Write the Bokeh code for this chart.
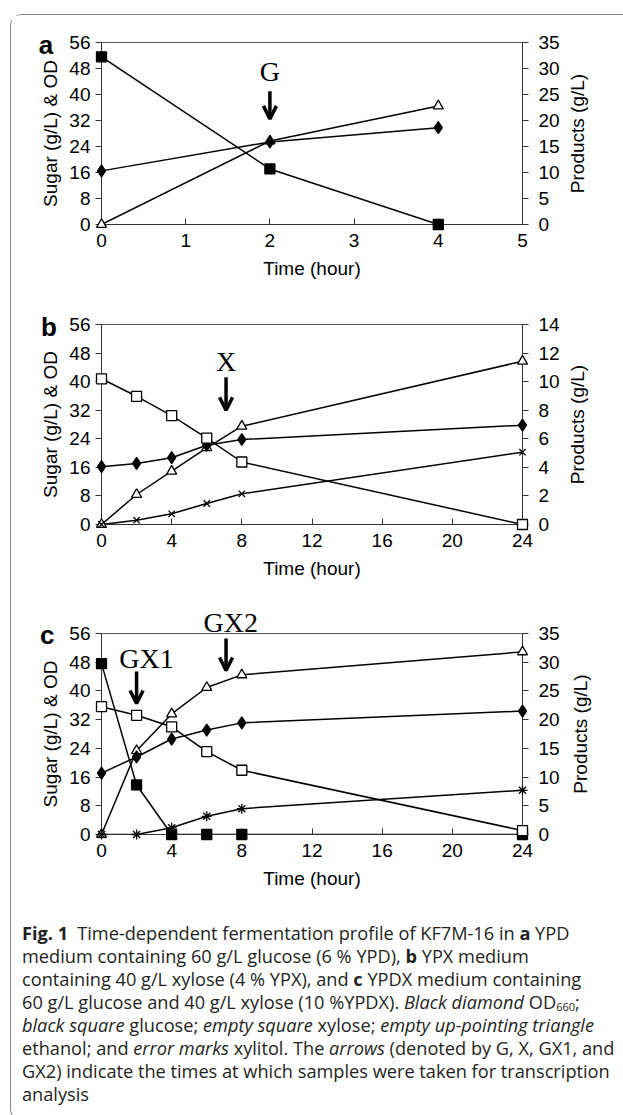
import math
from bokeh.plotting import figure
from bokeh.models import Range1d, LinearAxis, FixedTicker, Arrow, OpenHead, Div, Spacer
from bokeh.layouts import column, row
from bokeh.core.properties import value
from bokeh.embed import file_html
from bokeh.resources import INLINE

# ---------------- data ----------------
left_ticks = [0, 8, 16, 24, 32, 40, 48, 56]
right_ticks_35 = [0, 5, 10, 15, 20, 25, 30, 35]
right_ticks_14 = [0, 2, 4, 6, 8, 10, 12, 14]
x_ticks_a = [0, 1, 2, 3, 4, 5]
x_ticks_bc = [0, 4, 8, 12, 16, 20, 24]

# panel a (YPD) - time in hours
time_a = [0, 2, 4]
glucose_a = [51.6, 17.1, 0.0]      # left axis
od_a = [16.5, 25.4, 29.8]          # left axis
ethanol_a = [0.0, 16.05, 22.8]     # right axis (0-35)

# panel b (YPX)
time_b = [0, 2, 4, 6, 8, 24]
xylose_b = [40.8, 35.9, 30.5, 24.2, 17.5, 0.0]   # left
od_b = [16.2, 17.1, 18.7, 22.2, 23.8, 27.8]      # left
ethanol_b = [0.0, 2.1, 3.73, 5.37, 6.88, 11.43]  # right (0-14)
xylitol_b = [0.0, 0.3, 0.75, 1.47, 2.15, 5.06]   # right

# panel c (YPDX)
time_c = [0, 2, 4, 6, 8, 24]
glucose_c = [47.6, 13.8, 0.0, 0.0, 0.0, 0.0]      # left
xylose_c = [35.6, 33.2, 30.0, 23.1, 17.9, 1.1]    # left
od_c = [17.1, 21.6, 26.6, 29.1, 31.1, 34.4]       # left
ethanol_c = [0.0, 14.6, 21.0, 25.6, 27.8, 31.8]   # right (0-35)
xylitol_c = [0.0, 0.0, 1.17, 3.17, 4.5, 7.7]      # right

SANS = "Liberation Sans"
SERIF = "Liberation Serif"
TICK_FS = "19px"
FIG_W = 611


def make_panel(letter, letter_xy, title_x, xmax, xticks, rmax, rticks, height, bl, plot_w, bt, bb):
    br = FIG_W - bl - plot_w
    p = figure(width=FIG_W, height=height, x_range=Range1d(0, xmax), y_range=Range1d(0, 56),
               output_backend="svg", toolbar_location=None,
               min_border_left=bl, min_border_right=br, min_border_top=bt, min_border_bottom=bb)
    p.extra_y_ranges = {"right": Range1d(0, rmax)}
    p.grid.visible = False
    p.outline_line_color = "#555555"
    p.outline_line_width = 1
    p.background_fill_color = "white"
    p.border_fill_color = "white"

    xa = p.xaxis[0]
    xa.ticker = FixedTicker(ticks=xticks)
    xa.major_tick_in = 6
    xa.major_tick_out = 0
    xa.major_label_standoff = 9
    xa.axis_label = "Time (hour)"
    xa.axis_label_standoff = 8

    ya = p.yaxis[0]
    ya.ticker = FixedTicker(ticks=left_ticks)
    ya.major_tick_in = 0
    ya.major_tick_out = 6
    ya.major_label_standoff = 5
    ya.axis_label = "Sugar (g/L) & OD"
    ya.axis_label_standoff = 5

    ra = LinearAxis(y_range_name="right", ticker=FixedTicker(ticks=rticks))
    ra.major_tick_in = 0
    ra.major_tick_out = 6
    ra.major_label_standoff = 10
    p.add_layout(ra, "right")

    for ax in (xa, ya, ra):
        ax.minor_tick_line_color = None
        ax.axis_line_color = "#333333"
        ax.major_tick_line_color = "#333333"
        ax.major_label_text_font = SANS
        ax.major_label_text_font_size = TICK_FS
        ax.major_label_text_color = "black"
        ax.axis_label_text_font = SANS
        ax.axis_label_text_font_size = TICK_FS
        ax.axis_label_text_font_style = "normal"
        ax.axis_label_text_color = "black"

    # panel letter
    p.text(x=[letter_xy[0]], y=[letter_xy[1]], text=[letter], text_font=value(SANS),
           text_font_size=value("26px"), text_font_style="bold", text_align="center",
           text_baseline="alphabetic", text_color="black", level="overlay")
    # right axis title (reads bottom-to-top like the left one)
    p.text(x=[title_x], y=[28], text=["Products (g/L)"], text_font=value(SANS),
           text_font_size=value(TICK_FS), text_align="center", text_baseline="middle",
           angle=math.pi / 2, text_color="black", level="overlay")
    return p


def series(p, t, y, marker, fill, size, yr="default"):
    p.line(t, y, line_color="black", line_width=1.5, y_range_name=yr)
    p.scatter(t, y, marker=marker, size=size, fill_color=fill, line_color="black",
              line_width=1.3, y_range_name=yr, level="overlay")


def note(p, x, y, text):
    p.text(x=[x], y=[y], text=[text], text_font=value(SERIF), text_font_size=value("28px"),
           text_align="center", text_baseline="middle", text_color="black", level="overlay")


def arrow(p, x, y0, y1):
    p.add_layout(Arrow(x_start=x, y_start=y0, x_end=x, y_end=y1, line_width=3.5,
                       line_color="black", level="overlay",
                       end=OpenHead(size=13, line_width=3.5, line_color="black")))


# panel a
pa = make_panel("a", (-0.66, 55.2), 5.651, 5, x_ticks_a, 35, right_ticks_35,
                285, 85, 426, 27, 76)
series(pa, time_a, ethanol_a, "triangle", "white", 10, "right")
series(pa, time_a, glucose_a, "square", "black", 10)
series(pa, time_a, od_a, "diamond", "black", 12)
note(pa, 2, 47, "G")
arrow(pa, 2, 41, 32.5)

# panel b
pb = make_panel("b", (-3.0, 55.3), 27.13, 24, x_ticks_bc, 14, right_ticks_14,
                293, 85, 433, 24, 69)
series(pb, time_b, ethanol_b, "triangle", "white", 10, "right")
series(pb, time_b, xylitol_b, "x", "white", 9, "right")
series(pb, time_b, od_b, "diamond", "black", 12)
series(pb, time_b, xylose_b, "square", "white", 10)
note(pb, 7.1, 45.6, "X")
arrow(pb, 7.1, 41.2, 32)

# panel c
pc = make_panel("c", (-3.1, 55.5), 27.33, 24, x_ticks_bc, 35, right_ticks_35,
                324, 90, 436, 40, 83)
series(pc, time_c, ethanol_c, "triangle", "white", 10, "right")
series(pc, time_c, xylitol_c, "asterisk", "white", 10, "right")
series(pc, time_c, glucose_c, "square", "black", 10)
series(pc, time_c, od_c, "diamond", "black", 12)
series(pc, time_c, xylose_c, "square", "white", 10)
note(pc, 2.57, 49, "GX1")
arrow(pc, 2.0, 45.4, 36.5)
note(pc, 7.37, 59, "GX2")
arrow(pc, 7.1, 54.6, 45.7)

caption_lines = [
    "<b>Fig. 1</b>&ensp;Time-dependent fermentation profile of KF7M-16 in <b>a</b> YPD",
    "medium containing 60 g/L glucose (6 % YPD), <b>b</b> YPX medium",
    "containing 40 g/L xylose (4 % YPX), and <b>c</b> YPDX medium containing",
    "60 g/L glucose and 40 g/L xylose (10 %YPDX). <i>Black diamond</i> OD"
    "<span style='font-size:11px;position:relative;top:2px;line-height:0'>660</span>;",
    "<i>black square</i> glucose; <i>empty square</i> xylose; <i>empty up-pointing triangle</i>",
    "ethanol; and <i>error marks</i> xylitol. The <i>arrows</i> (denoted by G, X, GX1, and",
    "GX2) indicate the times at which samples were taken for transcription",
    "analysis",
]
caption = Div(
    text="<div style=\"font-family:'Open Sans';font-size:18.2px;line-height:23px;"
         "white-space:nowrap;color:#231f20;padding-left:6px\">" + "<br>".join(caption_lines) + "</div>",
    width=FIG_W, height=193)

framed = column(pa, pb, pc, caption,
                styles={"border-top": "1.5px solid #888", "border-left": "1.5px solid #888",
                        "border-bottom": "1.5px solid #888",
                        "border-top-left-radius": "12px", "border-bottom-left-radius": "12px"})

layout = column(Spacer(width=10, height=14), row(Spacer(width=10, height=10), framed))

open("out.html", "w").write(file_html(layout, INLINE))
